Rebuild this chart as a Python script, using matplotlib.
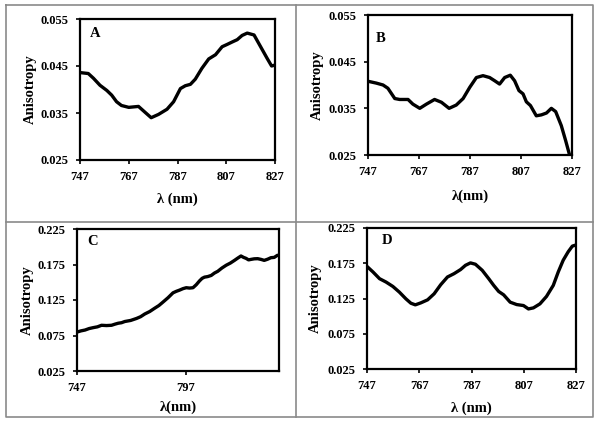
import matplotlib
matplotlib.use('Agg')
import matplotlib.pyplot as plt
from matplotlib.lines import Line2D

# panel A
wl_a = [747, 750.4, 752.5, 755.2, 758, 760, 762, 764, 767, 771, 773.8, 776.2, 779.2, 782.7,
        785.4, 788.2, 790.2, 792.3, 794.3, 797, 799.8, 802.6, 805.3, 807.4, 809.4, 811.5,
        813.5, 815.6, 818.4, 821.1, 823.8, 825.6, 827]
an_a = [0.0436, 0.0434, 0.0424, 0.0409, 0.0398, 0.0388, 0.0374, 0.0366, 0.0362, 0.0364, 0.0351,
        0.0340, 0.0347, 0.0358, 0.0374, 0.0402, 0.0408, 0.0411, 0.0422, 0.0445, 0.0465, 0.0474,
        0.0491, 0.0496, 0.0501, 0.0506, 0.0515, 0.0520, 0.0516, 0.0491, 0.0466, 0.0450, 0.0452]

# panel B
wl_b = [747, 750.3, 752.9, 754.8, 757.5, 759.4, 762.7, 764.6, 767.3, 769.9, 773.1, 775.8, 778.8,
        781.6, 784.3, 786.9, 789.5, 792.1, 794.7, 796.7, 798.6, 800.6, 802.8, 804.5, 806.2,
        807.8, 809.1, 810.7, 813, 815, 817, 818.9, 820.6, 822.8, 824.5, 826.1]
an_b = [0.0408, 0.0404, 0.0400, 0.0393, 0.0371, 0.0369, 0.0369, 0.0359, 0.0350, 0.0359, 0.0369,
        0.0363, 0.0350, 0.0357, 0.0371, 0.0395, 0.0416, 0.0420, 0.0416, 0.0409, 0.0402, 0.0416,
        0.0421, 0.0409, 0.0388, 0.0381, 0.0364, 0.0356, 0.0334, 0.0336, 0.0340, 0.0350, 0.0343,
        0.0313, 0.0281, 0.0249]

# panel C
wl_c = [747, 748.8, 750.7, 752.6, 754.5, 756.4, 758.3, 760.6, 762.9, 764.5, 766, 767.5, 769,
        771.7, 774.4, 776.3, 778.2, 780.5, 782.8, 784.7, 786.6, 788.9, 791.2, 792.7, 794.2,
        795.8, 797.3, 798.8, 800.4, 801.9, 803.4, 804.6, 805.7, 807.2, 808.8, 810.3, 811.8,
        813.7, 815.7, 817.6, 819.5, 821, 822.5, 823.7, 824.8, 826, 827.1, 828.6, 830.2, 831.7,
        833.2, 834.8, 836.3, 837.8, 839.3]
an_c = [0.0798, 0.0815, 0.0827, 0.0848, 0.0861, 0.0872, 0.0894, 0.0890, 0.0894, 0.0910, 0.0923,
        0.0930, 0.0947, 0.0962, 0.0990, 0.1015, 0.1053, 0.1088, 0.1135, 0.1172, 0.1221, 0.1282,
        0.1351, 0.1372, 0.1389, 0.1410, 0.1423, 0.1418, 0.1423, 0.1465, 0.1519, 0.1555, 0.1572,
        0.1580, 0.1596, 0.1630, 0.1654, 0.1700, 0.1740, 0.1770, 0.1808, 0.1840, 0.1870, 0.1850,
        0.1837, 0.1815, 0.1822, 0.1830, 0.1832, 0.1822, 0.1808, 0.1825, 0.1846, 0.1850, 0.1880]

# panel D
wl_d = [747, 749.3, 751.8, 754.3, 756.9, 759.4, 761.9, 763.8, 765.5, 767.6, 770.2, 772.7, 775.2,
        777.8, 780.3, 782.8, 784.7, 786.6, 788.5, 791.1, 793.6, 795.5, 797.4, 799.3, 801.8,
        804.3, 806.9, 808.8, 810.7, 813.2, 815.7, 818.3, 820.2, 822.1, 824, 825.6, 826.8]
an_d = [0.1705, 0.1626, 0.1531, 0.1483, 0.1421, 0.1340, 0.1245, 0.1183, 0.1160, 0.1188, 0.1231,
        0.1317, 0.1445, 0.1555, 0.1602, 0.1660, 0.1721, 0.1755, 0.1736, 0.1650, 0.1531, 0.1436,
        0.1350, 0.1302, 0.1198, 0.1164, 0.1150, 0.1102, 0.1117, 0.1174, 0.1279, 0.1436, 0.1626,
        0.1793, 0.1912, 0.1993, 0.2007]

xticks_full = [747, 767, 787, 807, 827]
xticks_c = [747, 797]
yticks_small = [0.025, 0.035, 0.045, 0.055]
yticks_big = [0.025, 0.075, 0.125, 0.175, 0.225]

W, H = 600, 425
font = 'Liberation Serif'

fig = plt.figure(figsize=(6, 4.25), dpi=100)


def add_panel(px, wl, an, letter, xticks, yticks, xlim, xlabel, letter_pos, ylab_x, xlab_y):
    # px = left, top, right, bottom in pixels
    l, t, r, b = px
    ax = fig.add_axes([l / W, (H - b) / H, (r - l) / W, (b - t) / H])
    ax.plot(wl, an, color='black', lw=2.4, solid_capstyle='round', clip_on=True)
    ax.set_xlim(*xlim)
    ax.set_ylim(yticks[0], yticks[-1])
    ax.set_xticks(xticks)
    ax.set_yticks(yticks)
    ax.set_xticklabels([str(v) for v in xticks])
    ax.set_yticklabels([f'{v:.3f}' for v in yticks])
    for s in ax.spines.values():
        s.set_linewidth(1.6)
    ax.tick_params(direction='out', length=3, width=1.2, labelsize=9, pad=5)
    for lab in ax.get_xticklabels() + ax.get_yticklabels():
        lab.set_fontfamily(font)
        lab.set_fontweight('bold')
    ax.set_ylabel('Anisotropy', fontfamily=font, fontweight='bold', fontsize=10.5)
    ax.set_xlabel(xlabel, fontfamily=font, fontweight='bold', fontsize=10.5)
    # label anchors: right edge of rotated y label, top of x label
    ax.yaxis.set_label_coords((ylab_x + 7 - l) / (r - l), 0.5)
    ax.xaxis.set_label_coords(0.5, (b - (xlab_y - 7)) / (b - t))
    ax.text(letter_pos[0], letter_pos[1], letter, transform=ax.transAxes, fontfamily=font,
            fontweight='bold', fontsize=10.5, va='center', ha='left')
    return ax


add_panel((80, 19, 275, 160), wl_a, an_a, 'A', xticks_full, yticks_small, (747, 827),
          'λ (nm)', (0.05, 0.9), 30, 200)
add_panel((368, 15, 572, 155), wl_b, an_b, 'B', xticks_full, yticks_small, (747, 827),
          'λ(nm)', (0.04, 0.83), 317, 197)
add_panel((77, 229, 279, 371), wl_c, an_c, 'C', xticks_c, yticks_big, (747, 840),
          'λ(nm)', (0.05, 0.915), 27, 408)
add_panel((367, 228, 576, 369), wl_d, an_d, 'D', xticks_full, yticks_big, (747, 827),
          'λ (nm)', (0.07, 0.91), 315, 409)

# grey panel frame
grey = '#8a8a8a'
for xs, ys in [([6, 593, 593, 6, 6], [5, 5, 417, 417, 5]), ([296, 296], [5, 417]), ([6, 593], [222, 222])]:
    fig.add_artist(Line2D([x / W for x in xs], [(H - y) / H for y in ys], color=grey, lw=1.2))

fig.savefig('out.png', dpi=100)
